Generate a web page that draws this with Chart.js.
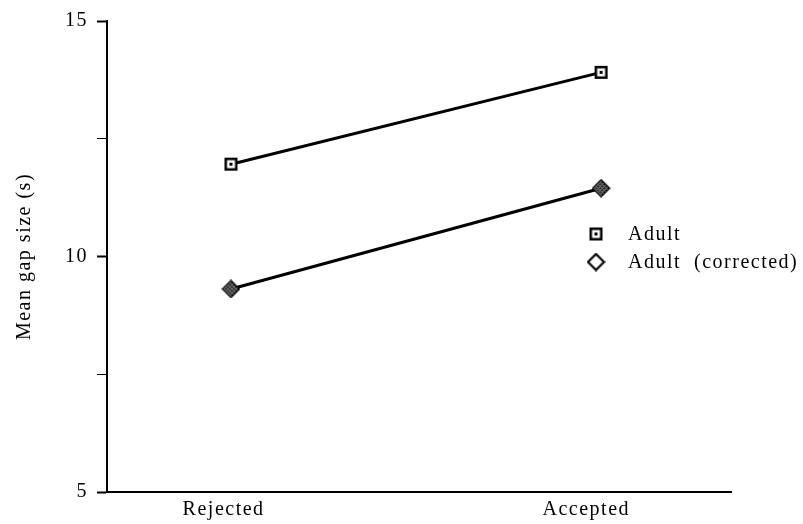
<!DOCTYPE html>
<html><head><meta charset="utf-8">
<script src="https://cdn.jsdelivr.net/npm/chart.js@4/dist/chart.umd.min.js"></script>
<style>html,body{margin:0;padding:0;background:#fff}#wrap{width:803px;height:524px}</style>
</head><body><div id="wrap"><canvas id="c" width="803" height="524"></canvas></div>
<script>
const categories = ["Rejected", "Accepted"];
const adult = [11.96, 13.91];
const adultCorrected = [9.31, 11.45];
const yTickLabels = [5, 10, 15];
const seriesNames = ["Adult", "Adult  (corrected)"];

function squareIcon(){
  const c=document.createElement('canvas');c.width=15;c.height=15;const g=c.getContext('2d');
  g.fillStyle='#fff';g.fillRect(1,1,13,13);
  g.strokeStyle='#000';g.lineWidth=2.5;g.strokeRect(2.25,2.25,10.5,10.5);
  g.fillStyle='#000';g.fillRect(6,6,3,3);return c;
}
function diamondIcon(hollow){
  const c=document.createElement('canvas');c.width=19;c.height=19;const g=c.getContext('2d');
  g.beginPath();g.moveTo(9.5,1.5);g.lineTo(17.5,9.5);g.lineTo(9.5,17.5);g.lineTo(1.5,9.5);g.closePath();
  if(hollow){g.fillStyle='#fff';g.fill();g.strokeStyle='#000';g.lineWidth=2.2;g.stroke();return c;}
  g.fillStyle='#222';g.fill();g.strokeStyle='#000';g.lineWidth=2;g.stroke();
  g.save();g.clip();g.strokeStyle='#999';g.lineWidth=1;
  for(let i=-19;i<38;i+=4){g.beginPath();g.moveTo(i,0);g.lineTo(i+19,19);g.stroke();g.beginPath();g.moveTo(i,19);g.lineTo(i+19,0);g.stroke();}
  g.restore();return c;
}
const sq=squareIcon(), dm=diamondIcon(false), dmH=diamondIcon(true);

const spacingPlugin={id:'sp',
  beforeUpdate(chart){chart.ctx.letterSpacing='1.5px';},
  beforeDraw(chart){chart.ctx.letterSpacing='1.5px';}
};
const legendPlugin={id:'lg',afterDraw(chart){
  const g=chart.ctx;
  const items=[[sq,234],[dmH,262]];
  g.save();g.letterSpacing='1.5px';g.font='20px "Liberation Serif"';g.fillStyle='#000';g.textBaseline='middle';
  items.forEach((it,i)=>{const ic=it[0];g.drawImage(ic,596-ic.width/2,it[1]-ic.height/2);g.fillText(seriesNames[i],628,it[1]+1);});
  g.restore();
}};

new Chart(document.getElementById('c'),{
  type:'line',
  data:{datasets:[
    {label:seriesNames[0],data:categories.map((c,i)=>({x:i,y:adult[i]})),borderColor:'#000',borderWidth:3,pointStyle:sq,pointRadius:7},
    {label:seriesNames[1],data:categories.map((c,i)=>({x:i,y:adultCorrected[i]})),borderColor:'#000',borderWidth:3,pointStyle:dm,pointRadius:9}
  ]},
  plugins:[spacingPlugin,legendPlugin],
  options:{
    responsive:false,animation:false,
    layout:{padding:{top:20,right:72,left:0,bottom:0}},
    plugins:{legend:{display:false},tooltip:{enabled:false}},
    scales:{
      x:{type:'linear',min:-0.335,max:1.351,
        afterBuildTicks(s){s.ticks=[-0.02,0.96].map(v=>({value:v}));},
        afterFit(s){s.height=32;},
        ticks:{callback:(v,i)=>categories[i]??'',color:'#000',font:{family:'Liberation Serif',size:20},padding:6,maxRotation:0,autoSkip:false},
        grid:{display:true,drawOnChartArea:false,drawTicks:false},
        border:{color:'#000',width:2}
      },
      y:{min:5,max:15,
        afterBuildTicks(s){s.ticks=[5,7.5,10,12.5,15].map(v=>({value:v}));},
        afterFit(s){s.width=107;},
        ticks:{callback:(v)=>yTickLabels.includes(v)?String(v):'',color:'#000',font:{family:'Liberation Serif',size:20},padding:9},
        grid:{drawOnChartArea:false,tickLength:10,color:'#000',tickWidth:(ctx)=>ctx.tick&&yTickLabels.includes(ctx.tick.value)?2:1},
        border:{color:'#000',width:2},
        title:{display:true,text:'Mean gap size (s)',color:'#000',font:{family:'Liberation Serif',size:20},padding:{top:13,bottom:0}}
      }
    }
  }
});
</script></body></html>
